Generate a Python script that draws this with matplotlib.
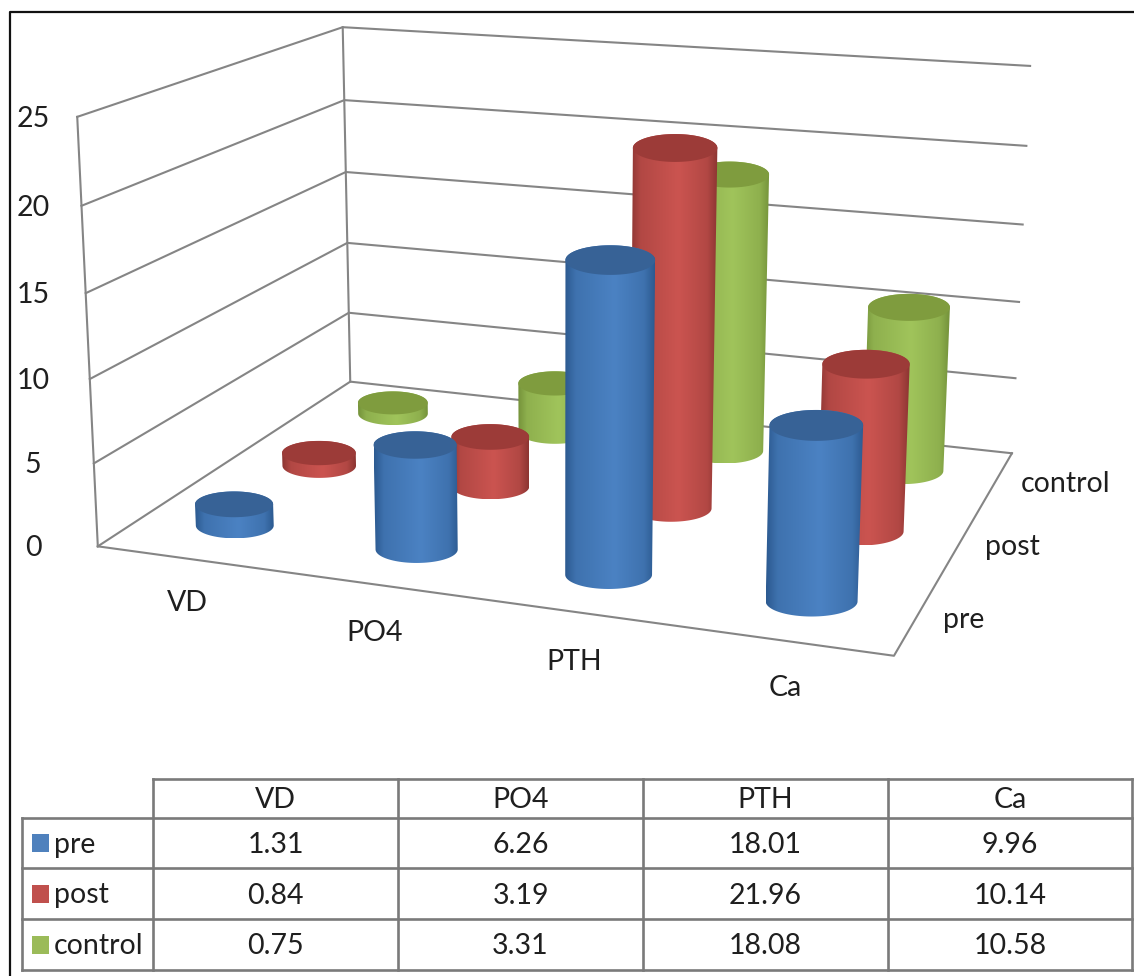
import numpy as np
import matplotlib
matplotlib.use('Agg')
import matplotlib.pyplot as plt
from matplotlib.patches import Polygon, Rectangle
from matplotlib.colors import LinearSegmentedColormap

categories = ['VD', 'PO4', 'PTH', 'Ca']
series_names = ['pre', 'post', 'control']
pre = [1.31, 6.26, 18.01, 9.96]
post = [0.84, 3.19, 21.96, 10.14]
control = [0.75, 3.31, 18.08, 10.58]
z_ticks = [0, 5, 10, 15, 20, 25]

series = [pre, post, control]
body_colors = [('#2c5a90', '#4b82c3'), ('#8c3532', '#cb5450'), ('#74923a', '#a0c45b')]
top_colors = ['#376296', '#9c3b38', '#7f9c3e']
swatch_colors = ['#4f81bd', '#c0504d', '#9bbb59']
line_color = '#858585'
text_color = '#1f1f1f'

plt.rcParams['font.family'] = ['Lato', 'DejaVu Sans']

# fit a projective camera on the corners of the 3d box (x=category, y=series, z=value)
box = [(0, 0, 0), (4, 0, 0), (4, 3, 0), (0, 3, 0), (0, 0, 25), (0, 3, 25), (4, 3, 25)]
screen = [(98, 546), (894, 656), (1012, 453), (350, 382), (77, 117), (343, 27), (1030, 66)]
rows = []
for (x, y, z), (u, v) in zip(box, screen):
    rows.append([x, y, z, 1, 0, 0, 0, 0, -u*x, -u*y, -u*z, -u])
    rows.append([0, 0, 0, 0, x, y, z, 1, -v*x, -v*y, -v*z, -v])
cam = np.linalg.svd(np.array(rows, dtype=float))[2][-1].reshape(3, 4)


def project(x, y, z):
    x, y, z = np.broadcast_arrays(x, y, z)
    p = cam @ np.vstack([x.ravel(), y.ravel(), z.ravel(), np.ones(x.size)])
    return p[0] / p[2], p[1] / p[2]


def hull(px, py):
    pts = sorted(set(zip(px.tolist(), py.tolist())))
    def half(points):
        out = []
        for p in points:
            while len(out) > 1 and ((out[-1][0]-out[-2][0])*(p[1]-out[-2][1]) - (out[-1][1]-out[-2][1])*(p[0]-out[-2][0])) <= 0:
                out.pop()
            out.append(p)
        return out[:-1]
    return half(pts) + half(pts[::-1])


def upright_ellipse(x, y, z):
    # the chart draws its discs level on screen, only the size follows the perspective
    ex, ey = project([x - 0.22, x + 0.22, x], y, z)
    half_w = (ex[1] - ex[0]) / 2
    t = np.linspace(0, 2*np.pi, 120)
    return ex[2] + half_w*np.cos(t), ey[2] + 0.33*half_w*np.sin(t)


def cylinder(ax, i, j, value):
    bx, by = upright_ellipse(i + 0.5, j + 0.5, 0)
    tx, ty = upright_ellipse(i + 0.5, j + 0.5, value)
    outline = hull(np.r_[bx, tx], np.r_[by, ty])
    dark, light = body_colors[j]
    cmap = LinearSegmentedColormap.from_list('c', [dark, light], N=256)
    shade = np.interp(np.linspace(0, 1, 256), [0, 0.12, 0.55, 0.88, 1], [0, 0.6, 1, 0.6, 0])
    left, right = min(p[0] for p in outline), max(p[0] for p in outline)
    low, high = min(p[1] for p in outline), max(p[1] for p in outline)
    im = ax.imshow(shade[None, :], cmap=cmap, vmin=0, vmax=1, extent=(left, right, high, low),
                   aspect='auto', zorder=6 - j, interpolation='bilinear')
    clip = Polygon(outline, closed=True, transform=ax.transData, fc='none', ec='none')
    ax.add_patch(clip)
    im.set_clip_path(clip)
    ax.add_patch(Polygon(np.c_[tx, ty], closed=True, fc=top_colors[j], ec='none', zorder=6 - j))


fig = plt.figure(figsize=(11.34, 9.76), dpi=100)
ax = fig.add_axes([0, 0, 1, 1])
ax.set_xlim(0, 1134)
ax.set_ylim(976, 0)
ax.axis('off')

# frame of the screenshot
ax.plot([1134, 10, 10], [12, 12, 976], color='#111111', lw=1.6, zorder=1)

# walls and floor
for z in z_ticks:
    px, py = project([0, 0, 4], [0, 3, 3], z)
    ax.plot(px, py, color=line_color, lw=1.5, zorder=2)
    ax.text(33, project(0, 0, z)[1][0] + 2, str(z), ha='center', va='center', fontsize=20.5, color=text_color)
for x0, y0 in [(0, 0), (0, 3)]:
    px, py = project(x0, y0, [0, 25])
    ax.plot(px, py, color=line_color, lw=1.5, zorder=2)
px, py = project([0, 4, 4], [0, 0, 3], 0)
ax.plot(px, py, color=line_color, lw=1.5, zorder=2)

for j in [2, 1, 0]:
    for i in range(len(categories)):
        cylinder(ax, i, j, series[j][i])

cat_label_xy = [(187, 603), (375, 633), (574, 662), (785, 688)]
for name, (x, y) in zip(categories, cat_label_xy):
    ax.text(x, y, name, ha='center', va='center', fontsize=20.5, color=text_color)
series_label_xy = [(964, 620), (1012, 547), (1066, 484)]
for name, (x, y) in zip(series_names, series_label_xy):
    ax.text(x, y, name, ha='center', va='center', fontsize=20.5, color=text_color)

# data table
col_x = [153, 398, 643, 888, 1132]
row_y = [779, 818, 868, 919, 970]
table_line = '#7a7a7a'
ax.plot([col_x[0], col_x[-1]], [row_y[0], row_y[0]], color=table_line, lw=1.9, zorder=2)
for y in row_y[1:]:
    ax.plot([22, col_x[-1]], [y, y], color=table_line, lw=1.9, zorder=2)
ax.plot([22, 22], [row_y[1], row_y[-1]], color=table_line, lw=1.9, zorder=2)
for x in col_x:
    ax.plot([x, x], [row_y[0], row_y[-1]], color=table_line, lw=1.9, zorder=2)
for c, name in enumerate(categories):
    ax.text((col_x[c]+col_x[c+1])/2, (row_y[0]+row_y[1])/2 + 2, name, ha='center', va='center',
            fontsize=20.5, color=text_color)
for r, name in enumerate(series_names):
    yc = (row_y[r+1]+row_y[r+2])/2
    ax.add_patch(Rectangle((32, yc-9), 17, 18, fc=swatch_colors[r], ec='none'))
    ax.text(54, yc + 2, name, ha='left', va='center', fontsize=20.5, color=text_color)
    for c in range(len(categories)):
        ax.text((col_x[c]+col_x[c+1])/2, yc + 2, f'{series[r][c]:.2f}', ha='center', va='center',
                fontsize=20.5, color=text_color)

fig.savefig('out.png', dpi=100)
